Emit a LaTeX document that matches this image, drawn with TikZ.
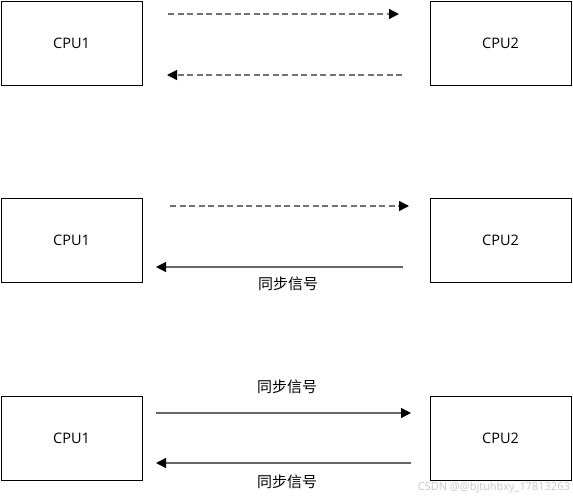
\documentclass[tikz,border=0pt]{standalone}
\usepackage{fontspec}
\setmainfont{Open Sans}
\newfontfamily\cjk{Noto Sans CJK SC}
\usetikzlibrary{arrows.meta}
\begin{document}
\begin{tikzpicture}[x=1pt,y=-1pt,
  cpu/.style={draw=black,line width=0.9pt,minimum width=141pt,minimum height=84pt,inner sep=0pt,font=\fontsize{14.5}{16}\selectfont},
  lbl/.style={font=\cjk\fontsize{15}{17}\selectfont,inner sep=0pt},
  sig/.style={draw=black!60,line width=1.2pt,-{Triangle[length=10pt,width=10pt,fill=black,color=black]}},
  dsig/.style={sig,draw=black!55,dash pattern=on 6pt off 3.5pt}]
\useasboundingbox (0,0) rectangle (573,499);
% row 1
\node[cpu] (a1) at (71.5,43) {CPU1};
\node[cpu] (b1) at (500.5,43) {CPU2};
\coordinate (r1s) at (168,14);  \coordinate (r1e) at (399,14);
\coordinate (l1s) at (402,75);  \coordinate (l1e) at (167,75);
\draw[dsig] (r1s) -- (r1e);
\draw[dsig] (l1s) -- (l1e);
% row 2
\node[cpu] (a2) at (71.5,240) {CPU1};
\node[cpu] (b2) at (500.5,240) {CPU2};
\coordinate (r2s) at (170,206); \coordinate (r2e) at (409,206);
\coordinate (l2s) at (403,267); \coordinate (l2e) at (156,267);
\draw[dsig] (r2s) -- (r2e);
\draw[sig] (l2s) -- (l2e);
\node[lbl] (t2) at (288,284) {同步信号};
% row 3
\node[cpu] (a3) at (71.5,438) {CPU1};
\node[cpu] (b3) at (500.5,438) {CPU2};
\coordinate (r3s) at (156,413); \coordinate (r3e) at (411,413);
\coordinate (l3s) at (411,463); \coordinate (l3e) at (156,463);
\draw[sig] (r3s) -- (r3e);
\draw[sig] (l3s) -- (l3e);
\node[lbl] (t3a) at (287,387) {同步信号};
\node[lbl] (t3b) at (287,482) {同步信号};
% watermark
\node[font=\fontsize{11}{13}\selectfont,text=black!22,inner sep=0pt,anchor=east] (wm) at (570,488) {CSDN @@bjtuhbxy\_17813263};
\end{tikzpicture}
\end{document}
